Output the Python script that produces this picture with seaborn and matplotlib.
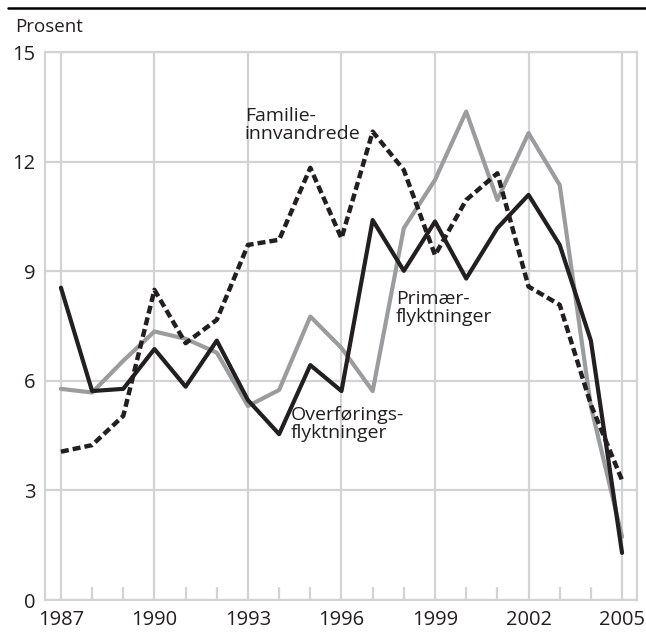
import matplotlib
matplotlib.use("Agg")
import matplotlib.pyplot as plt
from matplotlib.lines import Line2D
from matplotlib.ticker import MultipleLocator
import pandas as pd
import seaborn as sns

years = list(range(1987, 2006))

# Overføringsflyktninger (solid black)
overforing = [8.55, 5.72, 5.78, 6.87, 5.84, 7.10, 5.47, 4.54, 6.43, 5.72,
              10.40, 9.01, 10.36, 8.80, 10.18, 11.09, 9.72, 7.10, 1.29]
# Primærflyktninger (grey)
primaer = [5.78, 5.68, 6.55, 7.35, 7.15, 6.77, 5.31, 5.75, 7.76, 6.90,
           5.72, 10.18, 11.50, 13.37, 10.95, 12.78, 11.36, 5.30, 1.73]
# Familieinnvandrede (dashed black)
familie = [4.06, 4.24, 5.04, 8.49, 7.03, 7.67, 9.72, 9.86, 11.83, 9.90,
           12.82, 11.77, 9.44, 10.95, 11.68, 8.58, 8.08, 5.35, 3.28]

y_ticks = [0, 3, 6, 9, 12, 15]
x_ticks = [1987, 1990, 1993, 1996, 1999, 2002, 2005]

BLACK = "#231f20"
GREY = "#9b9c9e"
GRID = "#d2d3d5"

sns.set_theme(style="white")
plt.rcParams["font.family"] = ["Open Sans", "DejaVu Sans"]
plt.rcParams["text.color"] = BLACK

df = pd.DataFrame({"year": years, "overforing": overforing,
                   "primaer": primaer, "familie": familie})

fig = plt.figure(figsize=(6.46, 6.32), dpi=100)
ax = fig.add_axes([0.0697, 0.0506, 0.9159, 0.8671])

sns.lineplot(data=df, x="year", y="primaer", ax=ax, color=GREY,
             linewidth=3.0, zorder=3)
sns.lineplot(data=df, x="year", y="overforing", ax=ax, color=BLACK,
             linewidth=3.0, zorder=4)
sns.lineplot(data=df, x="year", y="familie", ax=ax, color=BLACK,
             linewidth=3.2, linestyle=(0, (1.8, 0.9)), zorder=5)

ax.set_xlim(1986.49, 2005.47)
ax.set_ylim(0, 15)
ax.set_xticks(x_ticks)
ax.set_yticks(y_ticks)
ax.xaxis.set_minor_locator(MultipleLocator(1))
ax.grid(True, which="major", color=GRID, linewidth=1.6, zorder=1)
ax.set_axisbelow(True)
for sp in ax.spines.values():
    sp.set_color(GRID)
    sp.set_linewidth(1.6)
ax.tick_params(axis="y", length=0, pad=7, labelsize=14.5, labelcolor=BLACK)
ax.tick_params(axis="x", which="major", length=0, pad=7.5, labelsize=14.5,
               labelcolor=BLACK)
ax.tick_params(axis="x", which="minor", direction="in", length=9.5,
               width=1.6, color=GRID, bottom=True)
ax.set_xlabel("")
ax.set_ylabel("")

ax.text(1992.9, 12.61, "Familie-\ninnvandrede", fontsize=14, va="baseline",
        ha="left", linespacing=1.0, zorder=6)
ax.text(1997.75, 7.62, "Primær-\nflyktninger", fontsize=14, va="baseline",
        ha="left", linespacing=1.0, zorder=6)
ax.text(1994.38, 4.43, "Overførings-\nflyktninger", fontsize=14,
        va="baseline", ha="left", linespacing=1.0, zorder=6)

fig.text(15 / 646, 1 - 32 / 632, "Prosent", fontsize=13.5, va="baseline",
         ha="left")
fig.add_artist(Line2D([8 / 646, 1.0], [1 - 8 / 632, 1 - 8 / 632],
                      color="black", linewidth=1.8))

fig.savefig("out.png", dpi=100)
